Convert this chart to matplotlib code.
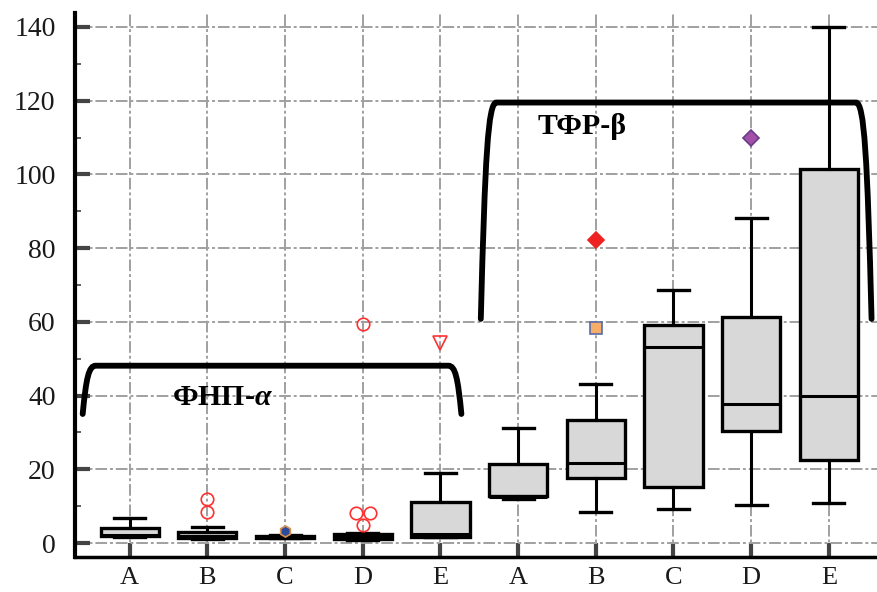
import matplotlib.pyplot as plt
from matplotlib.path import Path
from matplotlib.patches import PathPatch

plt.rcParams['font.family'] = ['Liberation Serif', 'DejaVu Serif']
plt.rcParams['mathtext.fontset'] = 'custom'
plt.rcParams['mathtext.rm'] = 'Liberation Serif:bold'
plt.rcParams['mathtext.it'] = 'Liberation Serif:italic:bold'

# categories (two groups of five)
labels = ['A', 'B', 'C', 'D', 'E', 'A', 'B', 'C', 'D', 'E']
positions = [1, 2, 3, 4, 5, 6, 7, 8, 9, 10]

# box statistics
whislo = [1.5, 1.0, 1.3, 0.8, 1.5, 12.0, 8.4, 9.2, 10.3, 10.8]
q1 = [1.9, 1.4, 1.4, 1.0, 1.6, 12.7, 17.6, 15.1, 30.5, 22.4]
med = [2.1, 2.0, 1.7, 1.6, 2.4, 12.6, 21.6, 53.2, 37.6, 40.0]
q3 = [4.0, 3.0, 2.0, 2.4, 11.1, 21.4, 33.5, 59.2, 61.4, 101.6]
whishi = [6.8, 4.3, 2.1, 2.6, 18.9, 31.1, 43.2, 68.6, 88.1, 140.0]

# outliers: position, small horizontal offset, value, style
out_pos = [2, 2, 3, 4, 4, 4, 4, 5, 7, 7, 9]
out_dx = [0, 0, 0, 0, -0.09, 0.09, 0, 0, 0, 0, 0]
out_val = [8.4, 11.9, 3.2, 59.5, 8.1, 8.1, 4.9, 54.3, 82.2, 58.4, 110.0]
out_marker = ['o', 'o', 'h', 'o', 'o', 'o', 'o', 'v', 'D', 's', 'D']
out_face = ['none', 'none', '#2b4c9b', 'none', 'none', 'none', 'none', 'none',
            '#ee2222', '#f5ad6a', '#a350a8']
out_edge = ['#ff3030', '#ff3030', '#d89050', '#ff3030', '#ff3030', '#ff3030',
            '#ff3030', '#ff3030', '#ee2222', '#5a6aa8', '#6a3a8a']
out_size = [9, 9, 8, 9, 9, 9, 9, 10, 8, 8, 8]

# group brackets: left end, right end, leg bottom, top, corner width, label
brackets = [
    (0.395, 5.27, 35.0, 48.1, 0.13, r'ФНП-$\alpha$', 2.2, 39.5),
    (5.52, 10.55, 60.8, 119.5, 0.155, 'ТФР-β', 6.82, 113.0),
]

fig = plt.figure(figsize=(8.77, 5.92), dpi=100)
ax = fig.add_axes([0.0855, 0.0591, 0.9145, 0.919])

stats = []
for i in range(len(positions)):
    stats.append(dict(whislo=whislo[i], q1=q1[i], med=med[i], q3=q3[i],
                      whishi=whishi[i], fliers=[]))

ax.bxp(stats, positions=positions, widths=0.75, patch_artist=True,
       showfliers=False,
       boxprops=dict(facecolor='#d8d8d8', edgecolor='black', linewidth=2.4),
       medianprops=dict(color='black', linewidth=2.2),
       whiskerprops=dict(color='black', linewidth=2.2),
       capprops=dict(color='black', linewidth=2.4),
       capwidths=0.4, zorder=3)

for p, dx, v, m, fc, ec, s in zip(out_pos, out_dx, out_val, out_marker,
                                  out_face, out_edge, out_size):
    ax.plot(p + dx, v, marker=m, markersize=s, markerfacecolor=fc,
            markeredgecolor=ec, markeredgewidth=1.2, linestyle='none', zorder=4)

# rounded brackets over each group
for x0, x1, yb, yt, d, txt, tx, ty in brackets:
    verts = [(x0, yb), (x0 + 0.35 * d, yb + 0.75 * (yt - yb)),
             (x0 + 0.6 * d, yt), (x0 + 1.3 * d, yt),
             (x1 - 1.3 * d, yt),
             (x1 - 0.6 * d, yt), (x1 - 0.35 * d, yb + 0.75 * (yt - yb)),
             (x1, yb)]
    codes = [Path.MOVETO, Path.CURVE4, Path.CURVE4, Path.CURVE4,
             Path.LINETO, Path.CURVE4, Path.CURVE4, Path.CURVE4]
    ax.add_patch(PathPatch(Path(verts, codes), facecolor='none',
                           edgecolor='black', linewidth=4.2,
                           capstyle='round', zorder=5))
    ax.text(tx, ty, txt, fontsize=21.5, fontweight='bold', ha='center',
            va='center', color='black', zorder=5)

ax.set_xlim(0.296, 10.62)
ax.set_ylim(-3.8, 143.8)
ax.set_xticks(positions)
ax.set_xticklabels(labels)
ax.set_yticks(range(0, 141, 20))
ax.set_yticks(range(10, 141, 20), minor=True)

ax.grid(True, which='major', color='#a0a0a0', linewidth=1.4,
        linestyle=(0, (6, 1.5, 1.5, 1.5)), zorder=0)
ax.set_axisbelow(True)

ax.tick_params(axis='y', which='major', direction='in', length=11, width=3,
               color='#444444', labelsize=20, pad=14, labelcolor='#1a1a1a')
ax.tick_params(axis='y', which='minor', direction='in', length=4, width=1.2,
               color='#444444')
ax.tick_params(axis='x', which='major', direction='in', length=10, width=3,
               color='#444444', labelsize=19, pad=7, labelcolor='#1a1a1a')

ax.spines['top'].set_visible(False)
ax.spines['right'].set_visible(False)
ax.spines['left'].set_linewidth(3)
ax.spines['bottom'].set_linewidth(2.5)

fig.savefig('out.png', dpi=100)
